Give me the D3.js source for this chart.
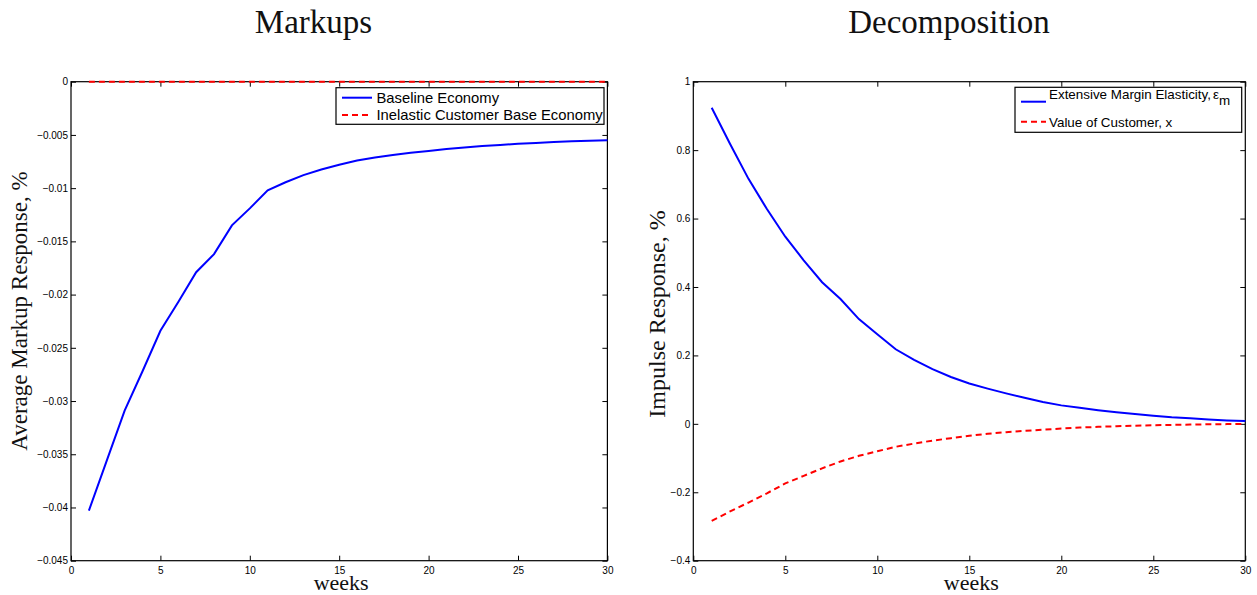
<!DOCTYPE html>
<html>
<head>
<meta charset="utf-8">
<script src="https://cdn.jsdelivr.net/npm/d3@7"></script>
<style>
  body { margin: 0; background: #fff; }
  .tick text { font-family: "Liberation Sans", Arial, sans-serif; font-size: 10px; fill: #000; }
  .tick line { stroke: #000; }
  .serif { font-family: "Liberation Serif", "Times New Roman", serif; fill: #111; }
  .leg { font-family: "Liberation Sans", Arial, sans-serif; fill: #000; }
</style>
</head>
<body>
<script>
// weeks on the horizontal axis
var weeks = [1,2,3,4,5,6,7,8,9,10,11,12,13,14,15,16,17,18,19,20,21,22,23,24,25,26,27,28,29,30];

// Markups panel
var baselineEconomy = [-0.0403,-0.0356,-0.0309,-0.0272,-0.0234,-0.0207,-0.0179,-0.0162,-0.0135,-0.0119,
  -0.0102,-0.00945,-0.00878,-0.00825,-0.0078,-0.0074,-0.00712,-0.00688,-0.00668,-0.0065,
  -0.00633,-0.00618,-0.00605,-0.00594,-0.00584,-0.00575,-0.00567,-0.0056,-0.00554,-0.00549];
var inelasticEconomy = [0,0,0,0,0,0,0,0,0,0,0,0,0,0,0,0,0,0,0,0,0,0,0,0,0,0,0,0,0,0];

// Decomposition panel
var marginElasticity = [0.924,0.818,0.716,0.628,0.547,0.478,0.414,0.365,0.306,0.262,
  0.218,0.187,0.160,0.137,0.118,0.103,0.089,0.076,0.064,0.054,
  0.047,0.040,0.034,0.029,0.024,0.019,0.016,0.013,0.010,0.008];
var customerValue = [-0.2835,-0.256,-0.230,-0.203,-0.174,-0.152,-0.130,-0.110,-0.0935,-0.080,
  -0.067,-0.0576,-0.049,-0.042,-0.035,-0.029,-0.0245,-0.0205,-0.017,-0.0137,
  -0.011,-0.0088,-0.007,-0.0055,-0.0042,-0.0031,-0.0022,-0.0014,-0.0008,-0.0003];

// tick values
var xTicks = [0,5,10,15,20,25,30];
var markupTicks = [0,-0.005,-0.01,-0.015,-0.02,-0.025,-0.03,-0.035,-0.04,-0.045];
var decompTicks = [1,0.8,0.6,0.4,0.2,0,-0.2,-0.4];

var width = 1257, height = 595;

var svg = d3.select("body").append("svg")
  .attr("width", width)
  .attr("height", height);

function fmt(d) {
  return d < 0 ? "\u2212" + String(-d) : String(d);
}

function drawPanel(p) {
  var x = d3.scaleLinear().domain([0, 30]).range([p.left, p.right]);
  var y = d3.scaleLinear().domain(p.yDomain).range([p.bottom, p.top]);

  var g = svg.append("g");

  // axes with ticks pointing inside, box on all four sides
  g.append("g").attr("transform", "translate(0," + p.bottom + ")")
    .call(d3.axisBottom(x).tickValues(xTicks).tickSize(-5).tickPadding(6).tickFormat(String))
    .call(function (a) { a.select(".domain").remove(); });
  g.append("g").attr("transform", "translate(0," + p.top + ")")
    .call(d3.axisTop(x).tickValues(xTicks).tickSize(-5).tickFormat(""))
    .call(function (a) { a.select(".domain").remove(); });
  g.append("g").attr("transform", "translate(" + p.left + ",0)")
    .call(d3.axisLeft(y).tickValues(p.yTicks).tickSize(-5).tickPadding(3).tickFormat(fmt))
    .call(function (a) { a.select(".domain").remove(); });
  g.append("g").attr("transform", "translate(" + p.right + ",0)")
    .call(d3.axisRight(y).tickValues(p.yTicks).tickSize(-5).tickFormat(""))
    .call(function (a) { a.select(".domain").remove(); });

  g.append("rect")
    .attr("x", p.left).attr("y", p.top)
    .attr("width", p.right - p.left).attr("height", p.bottom - p.top)
    .attr("fill", "none").attr("stroke", "#000").attr("stroke-width", 1.2);

  var line = d3.line()
    .x(function (d, i) { return x(weeks[i]); })
    .y(function (d) { return y(d); });

  p.series.forEach(function (s) {
    g.append("path")
      .datum(s.values)
      .attr("d", line)
      .attr("fill", "none")
      .attr("stroke", s.color)
      .attr("stroke-width", 2)
      .attr("stroke-dasharray", s.dash ? "6,4" : null);
  });

  // titles and labels
  g.append("text").attr("class", "serif")
    .attr("x", p.titleX).attr("y", 33)
    .attr("text-anchor", "middle")
    .style("font-size", "33px")
    .text(p.title);

  g.append("text").attr("class", "serif")
    .attr("x", (p.left + p.right) / 2 + 2).attr("y", 590)
    .attr("text-anchor", "middle")
    .style("font-size", "22px")
    .text("weeks");

  g.append("text").attr("class", "serif")
    .attr("transform", "translate(" + p.yLabelX + "," + p.yLabelY + ") rotate(-90)")
    .attr("text-anchor", "middle")
    .style("font-size", p.yLabelSize + "px")
    .text(p.yLabel);

  // legend
  var L = p.legend;
  g.append("rect")
    .attr("x", L.x).attr("y", L.y).attr("width", L.w).attr("height", L.h)
    .attr("fill", "#fff").attr("stroke", "#000").attr("stroke-width", 1.2);
  L.rows.forEach(function (r, i) {
    var s = p.series[i];
    g.append("line")
      .attr("x1", L.x + 6).attr("x2", L.x + 6 + L.sample)
      .attr("y1", r.lineY).attr("y2", r.lineY)
      .attr("stroke", s.color).attr("stroke-width", 2)
      .attr("stroke-dasharray", s.dash ? "6,4" : null);
    var t = g.append("text").attr("class", "leg")
      .attr("x", L.x + L.textOffset).attr("y", r.textY)
      .style("font-size", L.size + "px")
      .text(r.text);
    if (r.sub) {
      t.append("tspan").attr("dx", 2).text(r.sym);
      t.append("tspan").attr("dy", 6).text(r.sub);
    }
  });
}

drawPanel({
  left: 71, right: 607.4, top: 81.7, bottom: 560.7,
  yDomain: [-0.045, 0], yTicks: markupTicks,
  title: "Markups", titleX: 313.5,
  yLabel: "Average Markup Response, %", yLabelX: 27, yLabelY: 311, yLabelSize: 23,
  series: [
    { values: baselineEconomy, color: "#0000ff", dash: false },
    { values: inelasticEconomy, color: "#ff0000", dash: true }
  ],
  legend: {
    x: 336, y: 87.7, w: 268, h: 36.6, size: 14.8, sample: 30, textOffset: 40.5,
    rows: [
      { text: "Baseline Economy", lineY: 97.7, textY: 102.5 },
      { text: "Inelastic Customer Base Economy", lineY: 115, textY: 120 }
    ]
  }
});

drawPanel({
  left: 693.3, right: 1245.3, top: 81.7, bottom: 560.7,
  yDomain: [-0.4, 1], yTicks: decompTicks,
  title: "Decomposition", titleX: 949,
  yLabel: "Impulse Response, %", yLabelX: 665, yLabelY: 314, yLabelSize: 24,
  series: [
    { values: marginElasticity, color: "#0000ff", dash: false },
    { values: customerValue, color: "#ff0000", dash: true }
  ],
  legend: {
    x: 1015, y: 87.3, w: 226.7, h: 45, size: 13.4, sample: 25, textOffset: 34,
    rows: [
      { text: "Extensive Margin Elasticity,", sym: "\u03b5", sub: "m", lineY: 101.7, textY: 99.3 },
      { text: "Value of Customer, x", lineY: 121.7, textY: 126.7 }
    ]
  }
});
</script>
</body>
</html>
